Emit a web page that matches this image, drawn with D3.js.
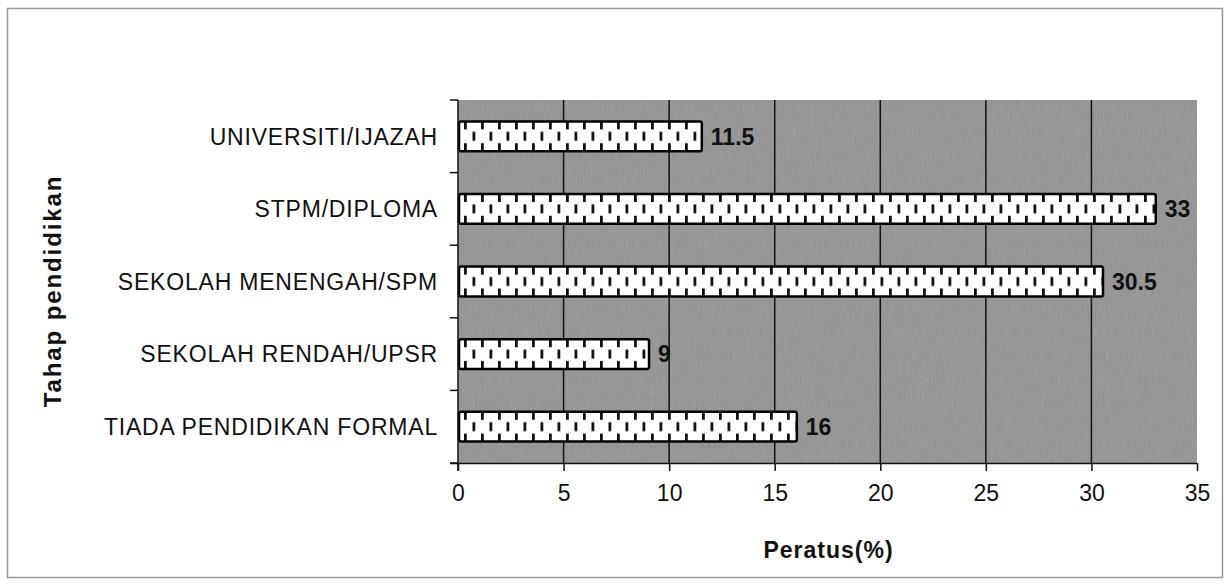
<!DOCTYPE html>
<html>
<head>
<meta charset="utf-8">
<script src="https://cdn.jsdelivr.net/npm/d3@7.9.0/dist/d3.min.js"></script>
<style>
  body { margin: 0; background: #fff; }
  svg { display: block; font-family: Arial, "Liberation Sans", sans-serif; }
</style>
</head>
<body>
<svg id="chart" width="1230" height="585"></svg>
<script>
const categories = [
  'UNIVERSITI/IJAZAH',
  'STPM/DIPLOMA',
  'SEKOLAH MENENGAH/SPM',
  'SEKOLAH RENDAH/UPSR',
  'TIADA PENDIDIKAN FORMAL'
];
const values = [11.5, 33, 30.5, 9, 16];
const xTicks = [0, 5, 10, 15, 20, 25, 30, 35];

const svg = d3.select('#chart');
const plot = { left: 458, right: 1197, top: 100, bottom: 463 };

// outer frame
svg.append('rect')
  .attr('x', 7.5).attr('y', 8.5).attr('width', 1215).attr('height', 569)
  .attr('fill', 'none').attr('stroke', '#9a9a9a').attr('stroke-width', 1.5);

const x = d3.scaleLinear().domain([0, 35]).range([plot.left, plot.right]);
const y = d3.scaleBand().domain(categories).range([plot.top, plot.bottom]).paddingInner(0.59).paddingOuter(0.295);
const bh = y.bandwidth();

const defs = svg.append('defs');
// dash fill, one tile per band step so it lines up with every bar
const pat = defs.append('pattern')
  .attr('id', 'dash').attr('patternUnits', 'userSpaceOnUse')
  .attr('width', 17).attr('height', y.step())
  .attr('x', plot.left + 6).attr('y', y(categories[0]));
pat.append('rect').attr('width', 17).attr('height', y.step()).attr('fill', '#fff');
pat.append('rect').attr('x', 0).attr('y', 0).attr('width', 2.8).attr('height', 8).attr('fill', '#111');
pat.append('rect').attr('x', 0).attr('y', bh - 8).attr('width', 2.8).attr('height', 8).attr('fill', '#111');
pat.append('rect').attr('x', 8.5).attr('y', bh / 2 - 4.5).attr('width', 2.8).attr('height', 9).attr('fill', '#111');

const noise = defs.append('filter').attr('id', 'grain');
noise.append('feTurbulence').attr('type', 'fractalNoise')
  .attr('baseFrequency', '0.9 0.08').attr('numOctaves', 2).attr('seed', 3).attr('result', 'n');
noise.append('feColorMatrix').attr('type', 'matrix')
  .attr('values', '0 0 0 0 0.5  0 0 0 0 0.5  0 0 0 0 0.5  0 0 0 0.35 0').attr('result', 'g');
noise.append('feComposite').attr('in', 'g').attr('in2', 'SourceGraphic').attr('operator', 'in');

// plot background
svg.append('rect')
  .attr('x', plot.left).attr('y', plot.top)
  .attr('width', plot.right - plot.left).attr('height', plot.bottom - plot.top)
  .attr('fill', '#8f8f8f');
svg.append('rect')
  .attr('x', plot.left).attr('y', plot.top)
  .attr('width', plot.right - plot.left).attr('height', plot.bottom - plot.top)
  .attr('fill', '#8f8f8f').attr('filter', 'url(#grain)');

// vertical gridlines
svg.append('g').selectAll('line')
  .data(xTicks.filter(d => d > 0 && d < 35))
  .join('line')
  .attr('x1', d => x(d)).attr('x2', d => x(d))
  .attr('y1', plot.top).attr('y2', plot.bottom)
  .attr('stroke', '#111').attr('stroke-width', 1.5);

// bars
svg.append('g').selectAll('rect')
  .data(values)
  .join('rect')
  .attr('x', x(0) + 1)
  .attr('y', (d, i) => y(categories[i]))
  .attr('width', d => x(d) - x(0))
  .attr('height', bh)
  .attr('rx', 2)
  .attr('fill', 'url(#dash)')
  .attr('stroke', '#000').attr('stroke-width', 2.5);

// value labels
svg.append('g').selectAll('text')
  .data(values)
  .join('text')
  .attr('x', d => x(d) + 10)
  .attr('y', (d, i) => y(categories[i]) + bh / 2)
  .attr('dy', '0.36em')
  .attr('font-size', 23).attr('font-weight', 'bold').attr('fill', '#111')
  .text(d => d);

// x axis
const xAxis = svg.append('g')
  .attr('transform', `translate(0,${plot.bottom})`)
  .call(d3.axisBottom(x).tickValues(xTicks).tickSize(8).tickPadding(14).tickFormat(d3.format('d')));
xAxis.select('.domain').attr('stroke', '#111').attr('stroke-width', 1.5).attr('d', `M${plot.left - 8},0.5H${plot.right}`);
xAxis.selectAll('.tick line').attr('stroke', '#111').attr('stroke-width', 1.5);
xAxis.selectAll('text').attr('font-size', 23).attr('fill', '#111').attr('font-family', 'Arial, "Liberation Sans", sans-serif');

// y axis
const bounds = d3.range(categories.length + 1).map(i => plot.top + i * (plot.bottom - plot.top) / categories.length);
svg.append('line')
  .attr('x1', plot.left).attr('x2', plot.left)
  .attr('y1', plot.top).attr('y2', plot.bottom + 8)
  .attr('stroke', '#111').attr('stroke-width', 1.5);
svg.append('g').selectAll('line')
  .data(bounds)
  .join('line')
  .attr('x1', plot.left - 8).attr('x2', plot.left)
  .attr('y1', d => d).attr('y2', d => d)
  .attr('stroke', '#111').attr('stroke-width', 1.5);

svg.append('g').selectAll('text')
  .data(categories)
  .join('text')
  .attr('x', 438)
  .attr('y', d => y(d) + bh / 2)
  .attr('dy', '0.36em')
  .attr('text-anchor', 'end')
  .attr('font-size', 23).attr('letter-spacing', 0.8).attr('fill', '#111')
  .text(d => d);

// axis titles
svg.append('text')
  .attr('x', (plot.left + plot.right) / 2 + 1).attr('y', 558)
  .attr('text-anchor', 'middle')
  .attr('font-size', 23).attr('letter-spacing', 1).attr('font-weight', 'bold').attr('fill', '#111')
  .text('Peratus(%)');

svg.append('text')
  .attr('transform', `translate(61,291) rotate(-90)`)
  .attr('text-anchor', 'middle')
  .attr('font-size', 24).attr('letter-spacing', 1.9).attr('font-weight', 'bold').attr('fill', '#111')
  .text('Tahap pendidikan');
</script>
</body>
</html>
